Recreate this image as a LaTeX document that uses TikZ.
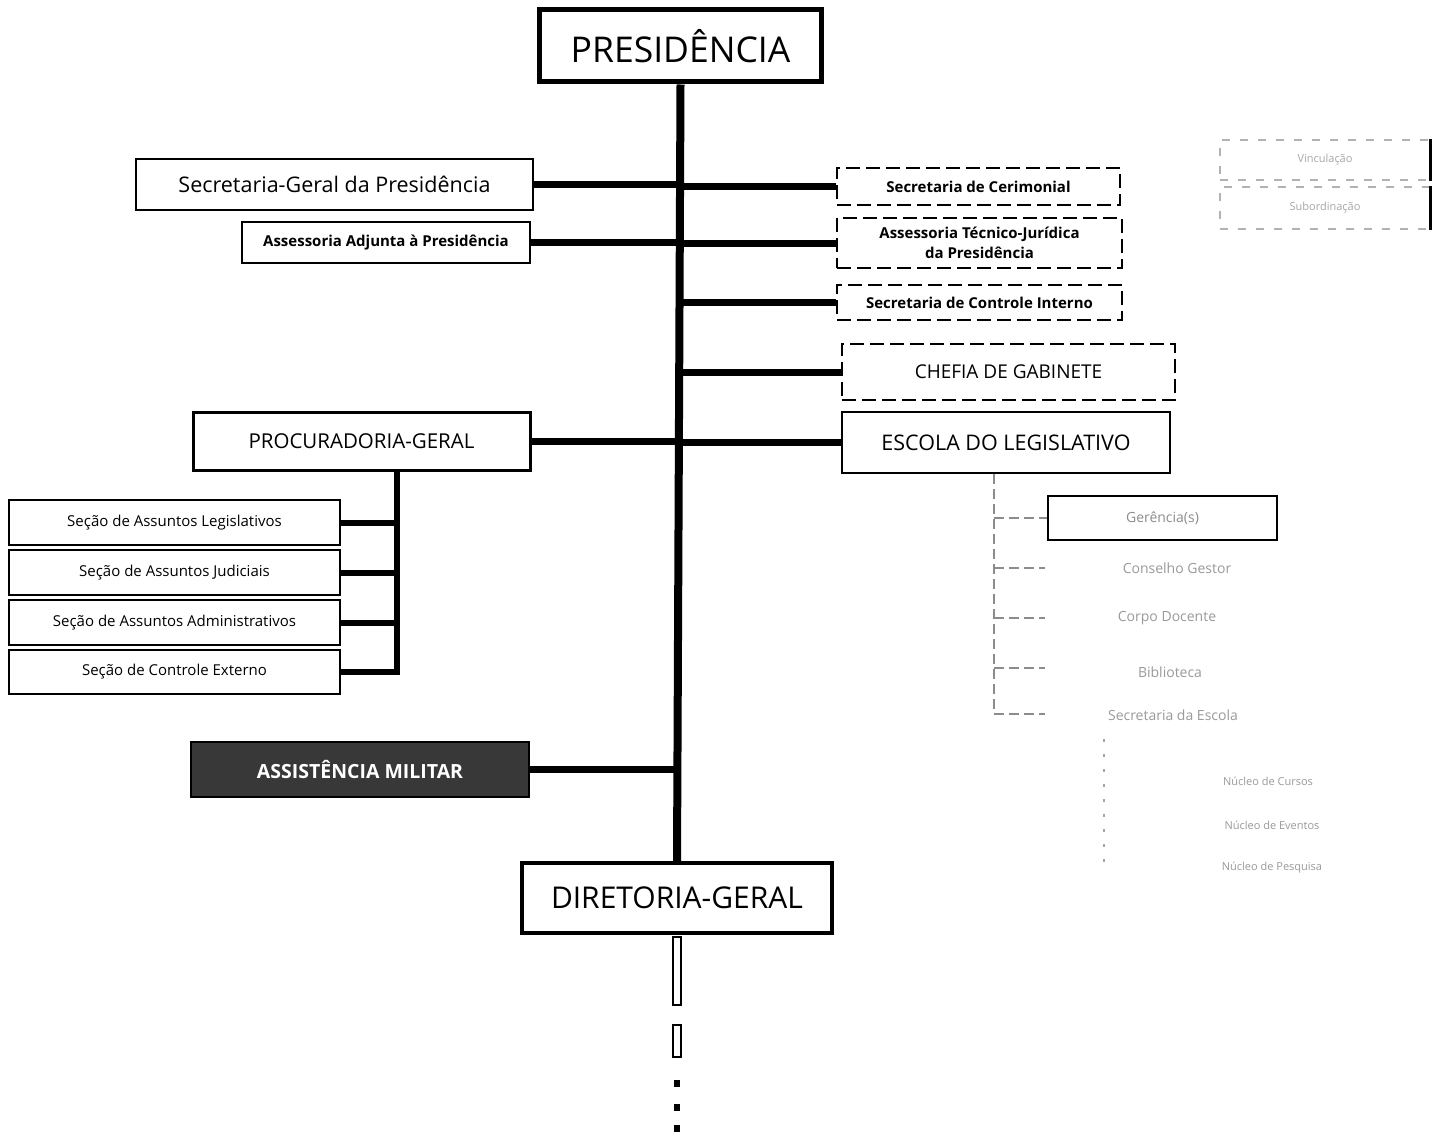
\documentclass[tikz,border=0pt]{standalone}
\usepackage{fontspec}
\setmainfont{Open Sans}
\usetikzlibrary{calc}
\tikzset{
  box/.style={draw=black, line width=1.6pt, fill=white, inner sep=0pt, align=center},
  bigbox/.style={box, line width=5pt},
  dbox/.style={draw=black, line width=1.6pt, dash pattern=on 14pt off 6pt, inner sep=0pt, align=center},
  fbox/.style={draw=black!30, line width=1.2pt, dash pattern=on 8pt off 10pt, inner sep=0pt, align=center, text=black!35},
  ftext/.style={inner sep=0pt, text=black!40},
  trunk/.style={line width=8pt, line cap=butt},
  link/.style={line width=7pt, line cap=butt},
  flink/.style={draw=black!45, line width=1.4pt, dash pattern=on 10pt off 5pt},
  secfont/.style={font=\fontsize{15}{18}\selectfont},
  rfont/.style={font=\fontsize{15}{19.5}\selectfont\bfseries},
}
\begin{document}
\begin{tikzpicture}[x=1pt,y=-1pt]
\useasboundingbox (0,0) rectangle (1433,1132);
% main boxes
\node[bigbox, minimum width=282pt, minimum height=72pt, font=\fontsize{35.5}{40}\selectfont] (pres) at (680.5,46) {PRESIDÊNCIA};
\node[box, line width=4pt, minimum width=310pt, minimum height=70pt, font=\fontsize{30}{34}\selectfont] (dir) at (677,898) {DIRETORIA-GERAL};
\coordinate (trk) at (680,0);
% left side
\node[box, minimum width=397pt, minimum height=51pt, font=\fontsize{21.5}{25}\selectfont] (sg) at (334.5,184.5) {Secretaria-Geral da Presidência};
\node[box, minimum width=288pt, minimum height=41pt, font=\fontsize{15}{17}\selectfont\bfseries] (aap) at (386,242.5) {Assessoria Adjunta à Presidência};
\node[box, line width=3pt, minimum width=337pt, minimum height=58pt, font=\fontsize{20.5}{24}\selectfont] (proc) at (361.5,441) {PROCURADORIA-GERAL};
\node[box, minimum width=331pt, minimum height=45pt, secfont] (s1) at (174.5,522.5) {Seção de Assuntos Legislativos};
\node[box, minimum width=331pt, minimum height=45pt, secfont] (s2) at (174.5,572.5) {Seção de Assuntos Judiciais};
\node[box, minimum width=331pt, minimum height=45pt, secfont] (s3) at (174.5,622.5) {Seção de Assuntos Administrativos};
\node[box, minimum width=331pt, minimum height=44pt, secfont] (s4) at (174.5,672) {Seção de Controle Externo};
\node[box, fill=black!78, minimum width=338pt, minimum height=55pt, text=white, font=\fontsize{19.5}{23}\selectfont\bfseries] (am) at (360,769.5) {ASSISTÊNCIA MILITAR};
\coordinate (bus) at (397,0);
% right side
\node[dbox, minimum width=283pt, minimum height=37pt, rfont] (cer) at (978.5,186.5) {Secretaria de Cerimonial};
\node[dbox, minimum width=285pt, minimum height=50pt, rfont] (atj) at (979.5,243) {Assessoria Técnico-Jurídica\\da Presidência};
\node[dbox, minimum width=285pt, minimum height=35pt, rfont] (sci) at (979.5,302.5) {Secretaria de Controle Interno};
\node[dbox, line width=2.2pt, minimum width=333pt, minimum height=56pt, font=\fontsize{19}{22}\selectfont] (cg) at (1008.5,372) {CHEFIA DE GABINETE};
\node[box, line width=2.2pt, minimum width=328pt, minimum height=61pt, font=\fontsize{21.5}{25}\selectfont] (esc) at (1006,442.5) {ESCOLA DO LEGISLATIVO};
% Escola sub-structure (faded)
\coordinate (ebus) at (994,0);
\node[box, line width=2pt, minimum width=229pt, minimum height=44pt, text=black!45, font=\fontsize{14}{17}\selectfont] (e1) at (1162.5,518) {Gerência(s)};
\node[ftext, font=\fontsize{14}{17}\selectfont] (e2) at (1177,568) {Conselho Gestor};
\node[ftext, font=\fontsize{14}{17}\selectfont] (e3) at (1167,618) {Corpo Docente};
\node[ftext, font=\fontsize{14}{17}\selectfont] (e4) at (1170,672) {Biblioteca};
\node[ftext, font=\fontsize{14}{17}\selectfont] (e5) at (1173,715) {Secretaria da Escola};
\coordinate (e2c) at (1045,568);
\coordinate (e3c) at (1045,618);
\coordinate (e4c) at (1045,668);
\coordinate (e5c) at (1045,714);
\coordinate (fbus) at (1104,0);
\node[ftext, font=\fontsize{11}{13}\selectfont] (f1) at (1268,781) {Núcleo de Cursos};
\node[ftext, font=\fontsize{11}{13}\selectfont] (f2) at (1272,825) {Núcleo de Eventos};
\node[ftext, font=\fontsize{11}{13}\selectfont] (f3) at (1272,868) {Núcleo de Pesquisa};
% top-right faded boxes
\node[fbox, minimum width=210pt, minimum height=40pt, font=\fontsize{11}{13}\selectfont] (l1) at (1325,160) {Vinculação};
\node[fbox, minimum width=210pt, minimum height=42pt, font=\fontsize{11}{13}\selectfont] (l2) at (1325,208) {Subordinação};
\draw[black, line width=2.5pt] (l1.north east) -- (l1.south east);
\draw[black, line width=2.5pt] (l2.north east) -- (l2.south east);
% connectors
\draw[trunk] (pres.south) -- (dir.north);
\draw[link] (sg.east) -- (sg.east -| trk);
\draw[link] (aap.east) -- (aap.east -| trk);
\draw[link] (proc.east) -- (proc.east -| trk);
\draw[link] (am.east) -- (am.east -| trk);
\draw[link] (cer.west) -- (cer.west -| trk);
\draw[link] (atj.west) -- (atj.west -| trk);
\draw[link] (sci.west) -- (sci.west -| trk);
\draw[link] (cg.west) -- (cg.west -| trk);
\draw[link] (esc.west) -- (esc.west -| trk);
\draw[line width=6pt] (proc.south -| bus) -- ($(s4.east -| bus)+(0,3)$);
\draw[line width=6pt] (s1.east) -- (s1.east -| bus);
\draw[line width=6pt] (s2.east) -- (s2.east -| bus);
\draw[line width=6pt] (s3.east) -- (s3.east -| bus);
\draw[line width=6pt] (s4.east) -- (s4.east -| bus);
% escola faded connectors
\draw[flink] (esc.south -| ebus) -- (e5c -| ebus);
\draw[flink] (e1.west -| ebus) -- (e1.west);
\draw[flink] (e2c -| ebus) -- (e2c);
\draw[flink] (e3c -| ebus) -- (e3c);
\draw[flink] (e4c -| ebus) -- (e4c);
\draw[flink] (e5c -| ebus) -- (e5c);
\draw[draw=black!35, line width=1.2pt, dash pattern=on 3pt off 12pt] ($(e5c -| fbus)+(0,25)$) -- (f3 -| fbus);
% below Diretoria-Geral
\draw[line width=1.5pt, fill=white] ($(dir.south)+(-4,2)$) rectangle ($(dir.south)+(4,70)$);
\draw[line width=1.5pt, fill=white] ($(dir.south)+(-4,90)$) rectangle ($(dir.south)+(4,122)$);
\fill ($(dir.south)+(-3,145)$) rectangle ($(dir.south)+(3,152)$);
\fill ($(dir.south)+(-3,169)$) rectangle ($(dir.south)+(3,176)$);
\fill ($(dir.south)+(-3,190)$) rectangle ($(dir.south)+(3,197)$);
\end{tikzpicture}
\end{document}
